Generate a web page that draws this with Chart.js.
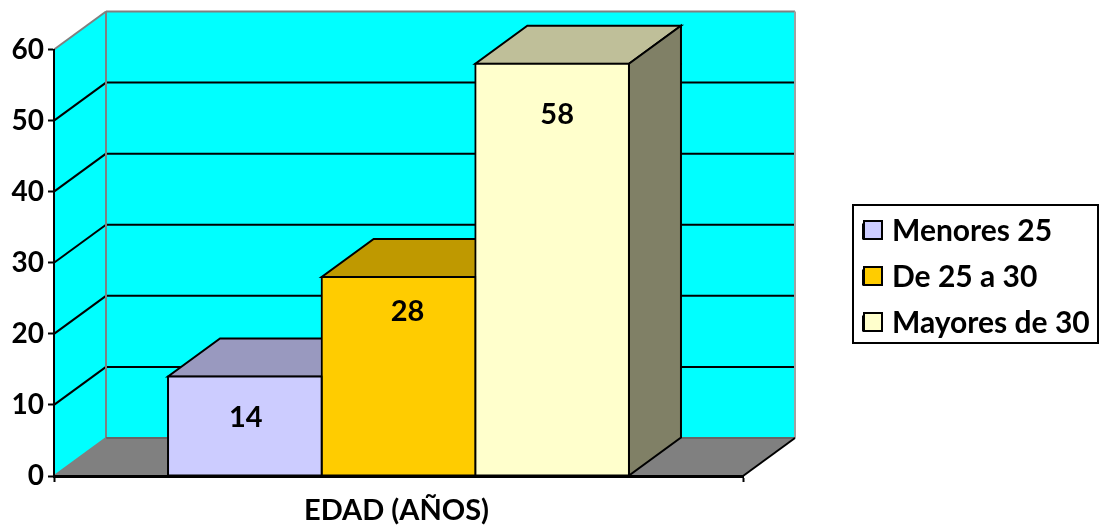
<!DOCTYPE html>
<html>
<head>
<meta charset="utf-8">
<style>
  html, body { margin: 0; padding: 0; background: #fff; }
  canvas { display: block; }
</style>
<script src="https://cdn.jsdelivr.net/npm/chart.js@4"></script>
</head>
<body>
<canvas id="edad-chart" width="1100" height="525"></canvas>
<script>
var categories = ["EDAD (AÑOS)"];
var seriesNames = ["Menores 25", "De 25 a 30", "Mayores de 30"];
var menores25 = [14];
var de25a30 = [28];
var mayores30 = [58];
var yTicks = [0, 10, 20, 30, 40, 50, 60];

var frontColors = ["#CCCCFF", "#FFCC00", "#FFFFCC"];
var topColors = ["#9999BF", "#BF9900", "#BFBF99"];
var sideColors = ["#666680", "#806600", "#808066"];

// how far the box goes back, and where each number sits relative to its bar
var DEPTH_X = 52;
var DEPTH_Y = -38;
var labelDrop = [41, 35, 51];
var labelShift = [1, 9, 5];
var FONT = "Lato, 'Liberation Sans', sans-serif";

function poly(ctx, pts, fill, stroke, width) {
    ctx.beginPath();
    ctx.moveTo(pts[0][0], pts[0][1]);
    for (var i = 1; i < pts.length; i++) {
        ctx.lineTo(pts[i][0], pts[i][1]);
    }
    ctx.closePath();
    if (fill) {
        ctx.fillStyle = fill;
        ctx.fill();
    }
    if (stroke) {
        ctx.strokeStyle = stroke;
        ctx.lineWidth = width;
        ctx.stroke();
    }
}

function line(ctx, x1, y1, x2, y2, color, width) {
    ctx.beginPath();
    ctx.moveTo(x1, y1);
    ctx.lineTo(x2, y2);
    ctx.strokeStyle = color;
    ctx.lineWidth = width;
    ctx.stroke();
}

// walls and floor of the 3d box, behind the axes
var boxPlugin = {
    id: "box3d",
    beforeDraw: function(chart) {
        var ctx = chart.ctx;
        var a = chart.chartArea;
        var y = chart.scales.y;
        var dx = DEPTH_X, dy = DEPTH_Y;
        var y0 = y.getPixelForValue(0);
        var yMax = y.getPixelForValue(60);

        ctx.save();
        poly(ctx, [[a.left, y0], [a.left + dx, y0 + dy], [a.left + dx, yMax + dy], [a.left, yMax]], "#00FFFF");
        poly(ctx, [[a.left + dx, y0 + dy], [a.right + dx, y0 + dy], [a.right + dx, yMax + dy], [a.left + dx, yMax + dy]], "#00FFFF");
        poly(ctx, [[a.left, y0], [a.right, y0], [a.right + dx, y0 + dy], [a.left + dx, y0 + dy]], "#808080");

        yTicks.forEach(function(v) {
            if (v === 0 || v === 60) return;
            var py = y.getPixelForValue(v);
            line(ctx, a.left, py, a.left + dx, py + dy, "#000", 2);
            line(ctx, a.left + dx, py + dy, a.right + dx, py + dy, "#000", 2);
        });

        // gray frame of the walls
        line(ctx, a.left, yMax, a.left + dx, yMax + dy, "#808080", 2);
        line(ctx, a.left + dx, yMax + dy, a.right + dx, yMax + dy, "#808080", 2);
        line(ctx, a.left + dx, yMax + dy, a.left + dx, y0 + dy, "#808080", 2);
        line(ctx, a.right + dx, yMax + dy, a.right + dx, y0 + dy, "#A0A0A0", 2);
        line(ctx, a.left + dx, y0 + dy, a.right + dx, y0 + dy, "#666666", 2);
        line(ctx, a.left, y0, a.left + dx, y0 + dy, "#808080", 2);
        line(ctx, a.right, y0, a.right + dx, y0 + dy, "#000", 2);
        ctx.restore();
    },
    beforeDatasetsDraw: function(chart) {
        var ctx = chart.ctx;
        var dx = DEPTH_X, dy = DEPTH_Y;
        ctx.save();
        ctx.lineJoin = "miter";
        chart.data.datasets.forEach(function(ds, i) {
            var bar = chart.getDatasetMeta(i).data[0];
            var l = bar.x - bar.width / 2;
            var r = bar.x + bar.width / 2;
            poly(ctx, [[l, bar.y], [r, bar.y], [r + dx, bar.y + dy], [l + dx, bar.y + dy]], topColors[i], "#000", 2);
            poly(ctx, [[r, bar.y], [r + dx, bar.y + dy], [r + dx, bar.base + dy], [r, bar.base]], sideColors[i], "#000", 2);
        });
        ctx.restore();
    },
    afterDatasetsDraw: function(chart) {
        var ctx = chart.ctx;
        ctx.save();
        ctx.fillStyle = "#000";
        ctx.font = "bold 29px " + FONT;
        ctx.textAlign = "center";
        ctx.textBaseline = "middle";
        chart.data.datasets.forEach(function(ds, i) {
            var bar = chart.getDatasetMeta(i).data[0];
            ctx.fillText(String(ds.data[0]), bar.x + labelShift[i], bar.y + labelDrop[i]);
        });
        ctx.restore();
    },
    // the legend sits off to the right, away from the plot
    afterLayout: function(chart) {
        var lg = chart.legend;
        var w = lg.width, h = lg.height;
        lg.left = 847;
        lg.top = 200.5;
        lg.right = lg.left + w + 20;
        lg.bottom = lg.top + h + 20;
    },
    afterDraw: function(chart) {
        var ctx = chart.ctx;
        ctx.save();
        ctx.strokeStyle = "#000";
        ctx.lineWidth = 2;
        ctx.strokeRect(853, 205, 245, 138);
        // legend swatches sit closer to their text than the built-in gap allows
        frontColors.forEach(function(color, i) {
            ctx.fillStyle = color;
            ctx.fillRect(864, 221 + i * 46, 18, 18);
            ctx.strokeRect(864, 221 + i * 46, 18, 18);
        });
        ctx.restore();
    }
};

var charts = document.getElementById("edad-chart");

var data = {
    labels: categories,
    datasets: [menores25, de25a30, mayores30].map(function(values, i) {
        return {
            label: seriesNames[i],
            data: values,
            backgroundColor: frontColors[i],
            borderColor: "#000",
            borderWidth: 2,
            borderSkipped: false,
            inflateAmount: 1,
            categoryPercentage: 0.669,
            barPercentage: 1
        };
    })
};

var options = {
    responsive: false,
    animation: false,
    layout: {
        padding: { left: 0, right: 357, top: 49.5, bottom: 0 }
    },
    plugins: {
        tooltip: { enabled: false },
        legend: {
            display: true,
            position: "chartArea",
            align: "start",
            labels: {
                boxWidth: 14,
                boxHeight: 14,
                padding: 16,
                color: "#000",
                font: { family: FONT, size: 30, weight: "bold" }
            }
        }
    },
    scales: {
        x: {
            afterFit: function(s) { s.height = 49; },
            border: { display: true, color: "#000", width: 3 },
            grid: { drawOnChartArea: false, drawTicks: true, tickLength: 6, tickColor: "#000", tickWidth: 2 },
            ticks: { color: "#000", padding: 11, maxRotation: 0, labelOffset: -2, font: { family: FONT, size: 29, weight: "bold" } }
        },
        y: {
            min: 0,
            max: 60,
            afterFit: function(s) { s.width = 54; },
            border: { display: true, color: "#000", width: 2 },
            grid: { drawOnChartArea: false, drawTicks: true, tickLength: 6, tickColor: "#000", tickWidth: 2 },
            afterBuildTicks: function(s) {
                s.ticks = yTicks.map(function(v) { return { value: v }; });
            },
            ticks: { color: "#000", padding: 4, font: { family: FONT, size: 28, weight: "bold" } }
        }
    }
};

var chart = new Chart(charts, {
    type: "bar",
    data: data,
    options: options,
    plugins: [boxPlugin]
});
</script>
</body>
</html>
